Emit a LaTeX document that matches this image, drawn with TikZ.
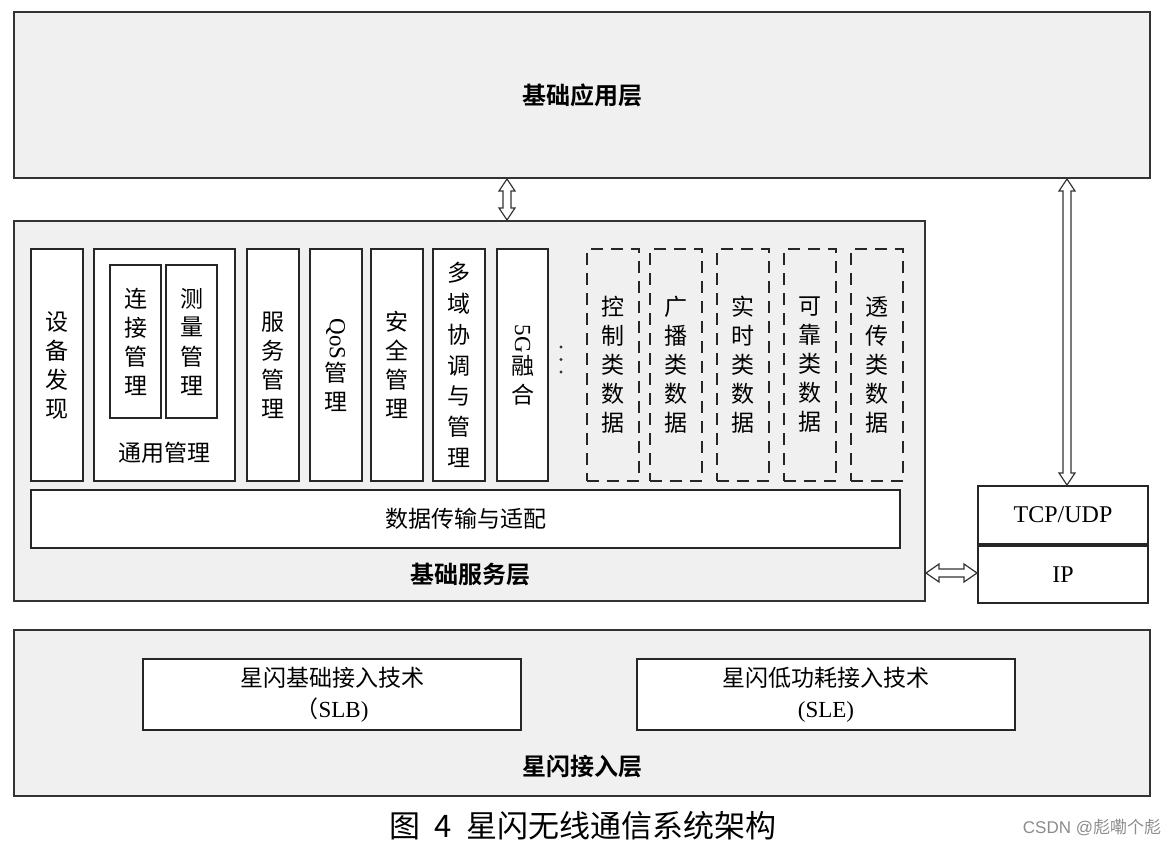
\documentclass[tikz,border=0pt]{standalone}
\usepackage{fontspec}
\setmainfont{Noto Sans CJK SC}[BoldFont={Noto Sans CJK SC Bold}]
\newfontfamily\latinrm{Liberation Serif}
\newfontfamily\latinsf{Liberation Sans}
\usetikzlibrary{
  calc,          % 坐标计算
  positioning    % 节点相对定位
}

\tikzset{
  layer/.style={draw=black!80, line width=1pt, fill=black!6, inner sep=0pt},
  unit/.style={draw=black!85, line width=1pt, fill=white, inner sep=0pt},
  dataunit/.style={draw=black!85, line width=1pt, dash pattern=on 6pt off 4pt, inner sep=0pt,
    minimum width=26pt, minimum height=116pt},
  vtext/.style={align=center, inner sep=0pt, font=\fontsize{11.5}{14.5}\selectfont},
  htext/.style={align=center, inner sep=0pt, font=\fontsize{11.5}{15.5}\selectfont},
  layername/.style={inner sep=0pt, font=\fontsize{12}{14}\selectfont\bfseries},
  hollow/.style={draw=black!80, line width=0.6pt, fill=white, line join=miter}
}

% 空心双向箭头：竖向（上端点，下端点）与横向（左端点，右端点）
\newcommand{\vhollow}[2]{%
  \draw[hollow] #1 -- ($#1+(8,12)$) -- ($#1+(4,12)$) -- ($#2+(4,-12)$) -- ($#2+(8,-12)$)
    -- #2 -- ($#2+(-8,-12)$) -- ($#2+(-4,-12)$) -- ($#1+(-4,12)$) -- ($#1+(-8,12)$) -- cycle;}
\newcommand{\hhollow}[2]{%
  \draw[hollow] #1 -- ($#1+(13,-9)$) -- ($#1+(13,-4)$) -- ($#2+(-13,-4)$) -- ($#2+(-13,-9)$)
    -- #2 -- ($#2+(-13,9)$) -- ($#2+(-13,4)$) -- ($#1+(13,4)$) -- ($#1+(13,9)$) -- cycle;}

\begin{document}
\begin{tikzpicture}[x=0.5pt, y=-0.5pt]
  \useasboundingbox (0,0) rectangle (1170,846);

  % 三层外框
  \node[layer, minimum width=568pt, minimum height=83pt] (app) at (582,95) {};
  \node[layer, minimum width=455.5pt, minimum height=190pt] (svc) at (469.5,411) {};
  \node[layer, minimum width=568pt, minimum height=83pt] (acc) at (582,713) {};
  \node[layername] (appname) at (app.center) {基础应用层};
  \node[layername] (svcname) at (470,574) {基础服务层};
  \node[layername] (accname) at (582,767) {星闪接入层};

  % 基础服务层内的模块
  \node[unit, minimum width=26pt, minimum height=116pt] (dev) at (57,365) {};
  \node[vtext] at (dev.center) {设\\备\\发\\现};

  \node[unit, minimum width=70.5pt, minimum height=116pt] (gen) at (164.5,365) {};
  \node[unit, minimum width=25.5pt, minimum height=76.5pt] (conn) at (135.5,341.5) {};
  \node[unit, minimum width=25.5pt, minimum height=76.5pt] (meas) at (191.5,341.5) {};
  \node[vtext] at (conn.center) {连\\接\\管\\理};
  \node[vtext] at (meas.center) {测\\量\\管\\理};
  \node[htext] (genname) at (164.5,453) {通用管理};

  \node[unit, minimum width=26pt, minimum height=116pt] (srv) at (272.5,365) {};
  \node[vtext] at (srv.center) {服\\务\\管\\理};
  \node[unit, minimum width=26pt, minimum height=116pt] (qos) at (335.5,365) {};
  \node[vtext] at (qos.center) {\rotatebox{-90}{\latinrm QoS}\\管\\理};
  \node[unit, minimum width=26pt, minimum height=116pt] (sec) at (397,365) {};
  \node[vtext] at (sec.center) {安\\全\\管\\理};
  \node[unit, minimum width=26pt, minimum height=116pt] (dom) at (459,365) {};
  \node[vtext, font=\fontsize{11.5}{15.4}\selectfont] at (dom.center) {多\\域\\协\\调\\与\\管\\理};
  \node[unit, minimum width=25.5pt, minimum height=116pt] (fg) at (522.5,365) {};
  \node[vtext] at (fg.center) {\rotatebox{-90}{\latinrm 5G}\\融\\合};

  \fill[black!80] (561,347) circle (1.6) (561,359.5) circle (1.6) (561,372) circle (1.6);

  \node[dataunit] (ctl) at (612.5,365) {};
  \node[vtext] at (ctl.center) {控\\制\\类\\数\\据};
  \node[dataunit] (bc) at (675.5,365) {};
  \node[vtext] at (bc.center) {广\\播\\类\\数\\据};
  \node[dataunit] (rt) at (742.5,365) {};
  \node[vtext] at (rt.center) {实\\时\\类\\数\\据};
  \node[dataunit] (rel) at (809.5,365) {};
  \node[vtext] at (rel.center) {可\\靠\\类\\数\\据};
  \node[dataunit] (tr) at (877,365) {};
  \node[vtext] at (tr.center) {透\\传\\类\\数\\据};

  \node[unit, minimum width=434.5pt, minimum height=29pt] (xfer) at (465.5,519) {};
  \node[htext] at (xfer.center) {数据传输与适配};

  % 协议栈
  \node[unit, minimum width=85pt, minimum height=29pt] (tcp) at (1063,515) {};
  \node[unit, minimum width=85pt, minimum height=28.5pt, below=0pt of tcp] (ip) {};
  \node[htext, font=\latinrm\fontsize{12}{14}\selectfont] at (tcp.center) {TCP/UDP};
  \node[htext, font=\latinrm\fontsize{12}{14}\selectfont] at (ip.center) {IP};

  % 星闪接入层内的两种技术
  \node[unit, minimum width=189pt, minimum height=35.5pt] (slb) at (332,694.5) {};
  \node[htext] at (slb.center) {星闪基础接入技术\\（{\latinrm SLB)}};
  \node[unit, minimum width=189pt, minimum height=35.5pt] (sle) at (826,694.5) {};
  \node[htext] at (sle.center) {星闪低功耗接入技术\\{\latinrm (SLE)}};

  % 空心双向箭头
  \vhollow{(507,0 |- app.south)}{(507,0 |- svc.north)}
  \vhollow{(1067,0 |- app.south)}{(1067,0 |- tcp.north)}
  \hhollow{(svc.east |- 0,573)}{(ip.west |- 0,573)}

  % 图题与水印
  \node[inner sep=0pt, font=\fontsize{15.5}{17}\selectfont] (cap) at (583,826) {图\hspace{0.45em}4\hspace{0.45em}星闪无线通信系统架构};
  \node[inner sep=0pt, text=black!45, font=\fontsize{8.5}{10}\selectfont] (wm) at (1092,828) {{\latinsf CSDN @}彪嘞个彪};
\end{tikzpicture}
\end{document}
